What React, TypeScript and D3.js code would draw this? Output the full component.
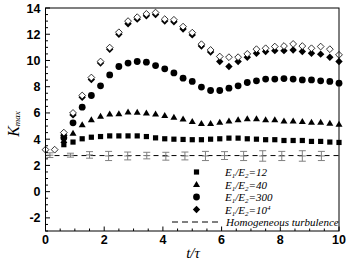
import React from 'react';
import * as d3 from 'd3';

// time index: t = k * 0.3125, k = 0..32
const times = d3.range(33).map(k => k * 0.3125);

// E1/E2 = 12 (squares)
const ratio12 = [null, null, 3.58, 3.78, 4.03, 4.15, 4.2, 4.25, 4.25, 4.25, 4.25, 4.2, 4.1, 4.03, 4.0, 3.98, 3.96,
  3.96, 4.0, 4.03, 4.08, 4.08, 4.03, 4.0, 3.96, 3.96, 3.9, 3.9, 3.9, 3.83, 3.83, 3.78, 3.75];
// E1/E2 = 40 (triangles)
const ratio40 = [null, null, 3.9, 4.46, 5.1, 5.48, 5.75, 5.92, 5.94, 6.08, 6.06, 6.0, 5.92, 5.82, 5.68, 5.55, 5.35,
  5.2, 5.2, 5.3, 5.4, 5.48, 5.56, 5.56, 5.48, 5.48, 5.4, 5.4, 5.35, 5.3, 5.3, 5.23, 5.15];
// E1/E2 = 300 (circles)
const ratio300 = [null, null, 4.1, 5.25, 6.44, 7.33, 8.07, 8.9, 9.54, 9.8, 9.92, 9.87, 9.61, 9.36, 9.05, 8.65, 8.4,
  7.97, 7.71, 7.71, 7.89, 8.07, 8.32, 8.45, 8.58, 8.58, 8.62, 8.58, 8.52, 8.52, 8.45, 8.4, 8.27];
// E1/E2 = 10^4 (filled diamonds)
const ratio1e4 = [null, null, 4.3, 5.85, 7.2, 8.55, 9.8, 10.85, 12.0, 12.8, 13.15, 13.4, 13.5, 13.0, 12.95, 12.4, 11.95,
  11.1, 10.65, 9.92, 9.54, 9.92, 10.25, 10.55, 10.68, 10.75, 10.75, 10.8, 10.68, 10.55, 10.48, 10.25, 9.92];
// open diamonds (not in legend)
const openDiamond = [3.2, 3.2, 4.5, 6.0, 7.33, 8.7, 9.92, 10.98, 12.15, 13.0, 13.3, 13.55, 13.65, 13.15, 13.1, 12.58, 12.12,
  11.24, 10.8, 10.3, 10.25, 10.25, 10.5, 10.86, 10.93, 11.06, 11.1, 11.26, 11.1, 10.93, 11.06, 10.86, 10.43];

// homogeneous turbulence with error bars
const homoLevel = 2.75;
const errTimes = [0.15, 0.85, 1.5, 2.15, 2.8, 3.45, 4.1, 4.75, 5.45, 6.1, 6.75, 7.4, 8.05, 8.75, 9.4];
const errMean = [2.78, 2.78, 2.8, 2.72, 2.72, 2.75, 2.7, 2.72, 2.72, 2.75, 2.72, 2.72, 2.72, 2.72, 2.72];
const errHalf = [0.18, 0.15, 0.25, 0.35, 0.3, 0.25, 0.3, 0.3, 0.35, 0.3, 0.35, 0.4, 0.35, 0.4, 0.35];

const xTicks = [0, 2, 4, 6, 8, 10];
const yTicks = [-2, 0, 2, 4, 6, 8, 10, 12, 14];
const legendRatios = ['12', '40', '300', '10'];

const W = 353, H = 264;
const x = d3.scaleLinear().domain([0, 10]).range([45.5, 339]);
const y = d3.scaleLinear().domain([-3, 14]).range([231, 8]);

const serif = '"Liberation Serif", "DejaVu Serif", serif';
const sans = '"Liberation Sans", Arial, sans-serif';

type Shape = 'square' | 'triangle' | 'circle' | 'diamond';

function Marker({ shape, cx, cy, open }: { shape: Shape; cx: number; cy: number; open?: boolean }) {
  const fill = open ? '#fff' : '#000';
  const stroke = open ? '#000' : 'none';
  if (shape === 'square') return <rect x={cx - 2.6} y={cy - 2.6} width={5.2} height={5.2} fill={fill} />;
  if (shape === 'triangle')
    return <path d={`M${cx},${cy - 3.4}L${cx + 3.5},${cy + 2.6}L${cx - 3.5},${cy + 2.6}Z`} fill={fill} />;
  if (shape === 'circle') return <circle cx={cx} cy={cy} r={3.4} fill={fill} />;
  const r = open ? 3.4 : 3.7;
  return <path d={`M${cx},${cy - r}L${cx + r},${cy}L${cx},${cy + r}L${cx - r},${cy}Z`} fill={fill} stroke={stroke} strokeWidth={0.8} />;
}

function Series({ data, shape, open }: { data: (number | null)[]; shape: Shape; open?: boolean }) {
  return (
    <g>
      {data.map((v, i) => v == null ? null : <Marker key={i} shape={shape} cx={x(times[i])} cy={y(v)} open={open} />)}
    </g>
  );
}

export default function App() {
  const [x0, x1] = x.range();
  const [yb, yt] = y.range();
  const xMinor = d3.range(0, 10.01, 0.5);
  const yMinor = d3.range(-3, 14.01, 0.5);
  const shapes: Shape[] = ['square', 'triangle', 'circle', 'diamond'];
  const legY = [172, 184.5, 197, 209.5];

  return (
    <svg width={W} height={H} style={{ position: 'absolute', left: 0, top: 0, background: '#fff' }}>
      <rect width={W} height={H} fill="#fff" />

      {/* homogeneous turbulence */}
      <line x1={x0} x2={x1} y1={y(homoLevel)} y2={y(homoLevel)} stroke="#000" strokeDasharray="5,4" />
      {errTimes.map((t, i) => {
        const cx = x(t);
        const lo = y(errMean[i] - errHalf[i]);
        const hi = y(errMean[i] + errHalf[i]);
        return (
          <g key={i} stroke="#808080" strokeWidth={1}>
            <line x1={cx} x2={cx} y1={lo} y2={hi} />
            <line x1={cx - 3.5} x2={cx + 3.5} y1={lo} y2={lo} />
            <line x1={cx - 3.5} x2={cx + 3.5} y1={hi} y2={hi} />
            <line x1={cx - 3.5} x2={cx + 3.5} y1={y(errMean[i])} y2={y(errMean[i])} />
          </g>
        );
      })}

      <Series data={ratio12} shape="square" />
      <Series data={ratio40} shape="triangle" />
      <Series data={ratio300} shape="circle" />
      <Series data={ratio1e4} shape="diamond" />
      <Series data={openDiamond} shape="diamond" open />

      {/* frame */}
      <rect x={x0} y={yt} width={x1 - x0} height={yb - yt} fill="none" stroke="#000" strokeWidth={1} />

      {/* x ticks */}
      {xMinor.map(t => (
        <line key={'xm' + t} x1={x(t)} x2={x(t)} y1={yb} y2={yb - (t % 2 === 0 ? 4.5 : 2.5)} stroke="#000" />
      ))}
      {xTicks.map(t => (
        <text key={'xt' + t} x={x(t)} y={yb + 13} textAnchor="middle" fontFamily={sans} fontWeight="bold" fontSize={12.5}>{t}</text>
      ))}
      {/* y ticks */}
      {yMinor.map(v => (
        <line key={'ym' + v} x1={x0} x2={x0 + (v % 2 === 0 ? 4.5 : 2.5)} y1={y(v)} y2={y(v)} stroke="#000" />
      ))}
      {yTicks.map(v => (
        <text key={'yt' + v} x={x0 - 5} y={y(v) + 4.5} textAnchor="end" fontFamily={sans} fontWeight="bold" fontSize={12.5}>{v}</text>
      ))}

      {/* axis titles */}
      <text x={193} y={258} textAnchor="middle" fontFamily={serif} fontStyle="italic" fontSize={15}>t/τ</text>
      <text transform={`translate(19,${124}) rotate(-90)`} textAnchor="middle" fontFamily={serif} fontStyle="italic" fontSize={16}>
        K<tspan fontSize={9} dy={1}>max</tspan>
      </text>

      {/* legend */}
      {shapes.map((s, i) => (
        <g key={s}>
          <Marker shape={s} cx={196.5} cy={legY[i]} />
          <text x={225} y={legY[i] + 4} fontFamily={serif} fontStyle="italic" fontSize={11}>
            E<tspan fontSize={7} dy={2}>1</tspan><tspan dy={-2}>/E</tspan><tspan fontSize={7} dy={2}>2</tspan>
            <tspan dy={-2}>={legendRatios[i]}</tspan>
            {i === 3 ? <tspan fontSize={7} dy={-4}>4</tspan> : null}
          </text>
        </g>
      ))}
      <line x1={172} x2={219} y1={222} y2={222} stroke="#000" strokeDasharray="6,4" />
      <text x={226} y={226} fontFamily={serif} fontStyle="italic" fontSize={11}>Homogeneous turbulence</text>
    </svg>
  );
}
